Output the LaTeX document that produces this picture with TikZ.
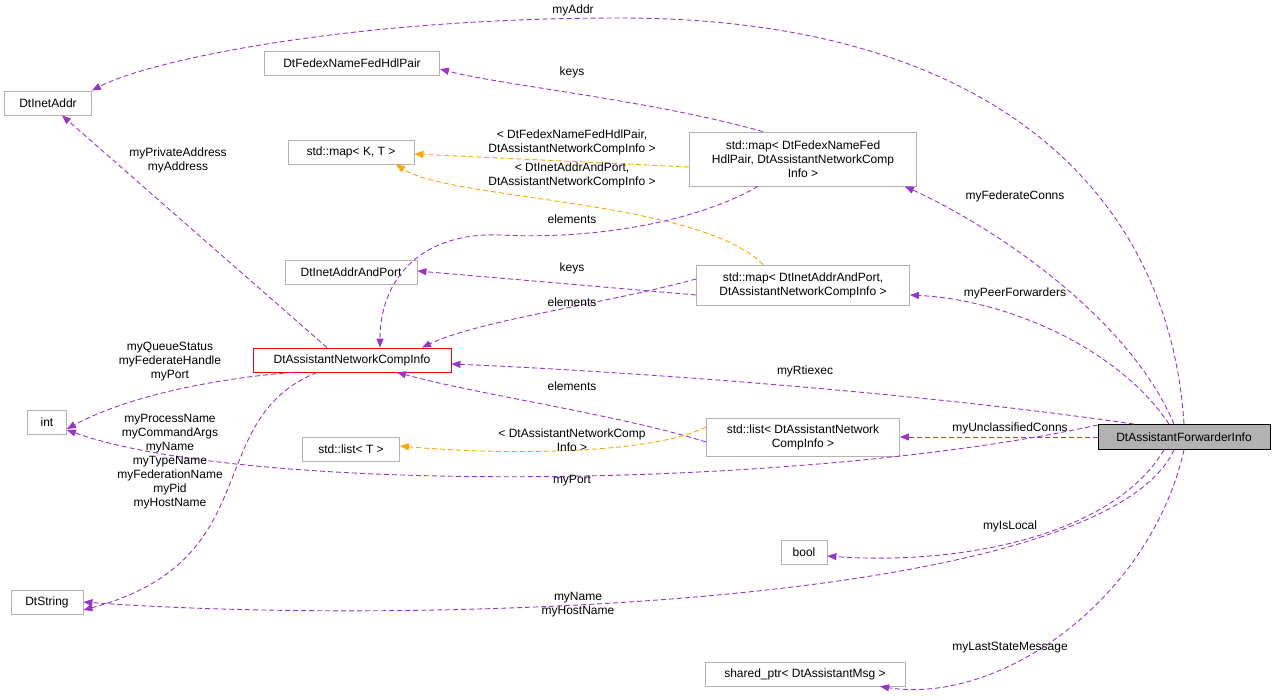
\documentclass[tikz,border=0pt]{standalone}
\usepackage{fontspec}
\setmainfont{Liberation Sans}
\usetikzlibrary{arrows.meta}
\definecolor{ep}{HTML}{9A32CD}
\definecolor{eo}{HTML}{FFA500}
\begin{document}
\begin{tikzpicture}[x=1pt,y=-1pt,
  every node/.style={font=\fontsize{12}{14}\selectfont},
  box/.style={draw=black!30,fill=white,inner sep=3pt,align=center,minimum height=24pt,line width=0.8pt},
  pe/.style={draw=ep,color=ep,line width=0.9pt,dash pattern=on 5pt off 3pt,-{Triangle[length=9pt,width=7pt]}},
  oe/.style={draw=eo,color=eo,line width=0.9pt,dash pattern=on 5pt off 3pt,-{Triangle[length=9pt,width=7pt]}},
  lab/.style={align=center,inner sep=0pt}]
\useasboundingbox (0,0) rectangle (1275,698);
\node[box,minimum width=87pt] (inet) at (48,103) {DtInetAddr};
\node[box,minimum width=175pt] (fedex) at (352,63) {DtFedexNameFedHdlPair};
\node[box,minimum width=126pt] (mapkt) at (351,152) {std::map\textless{} K, T \textgreater};
\node[box,minimum width=227pt,minimum height=54pt] (map1) at (803,159) {std::map\textless{} DtFedexNameFed\\HdlPair, DtAssistantNetworkComp\\Info \textgreater};
\node[box,minimum width=132pt] (iap) at (351,272) {DtInetAddrAndPort};
\node[box,minimum width=213pt,minimum height=40pt] (map2) at (803,285) {std::map\textless{} DtInetAddrAndPort,\\ DtAssistantNetworkCompInfo \textgreater};
\node[box,draw=red,minimum width=198pt] (nci) at (352,360) {DtAssistantNetworkCompInfo};
\node[box,minimum width=39pt] (int) at (47,422) {int};
\node[box,minimum width=97pt] (listt) at (351,449) {std::list\textless{} T \textgreater};
\node[box,minimum width=193pt,minimum height=38pt] (list) at (803,437) {std::list\textless{} DtAssistantNetwork\\CompInfo \textgreater};
\node[box,draw=black,fill=black!30,minimum width=172pt,minimum height=25pt] (fwd) at (1184,437) {DtAssistantForwarderInfo};
\node[box,minimum width=46pt] (bool) at (804,552) {bool};
\node[box,minimum width=72pt] (str) at (47,602) {DtString};
\node[box,minimum width=200pt] (sp) at (805,674) {shared\_ptr\textless{} DtAssistantMsg \textgreater};

% forwarder edges
\draw[pe] (fwd.north) .. controls (1170,200) and (1000,18) .. (620,18) .. controls (350,18) and (150,60) .. (inet.north east);
\node[lab] at (573,10) {myAddr};
\draw[pe] ([xshift=-10pt]fwd.north) .. controls (1130,320) and (1000,230) .. ([xshift=-12pt]map1.south east);
\node[lab] at (1015,196) {myFederateConns};
\draw[pe] ([xshift=-15pt]fwd.north) .. controls (1120,350) and (1010,300) .. ([yshift=-10pt]map2.east);
\node[lab] at (1015,293) {myPeerForwarders};
\draw[pe] ([xshift=-50pt]fwd.north) .. controls (900,390) and (600,370) .. ([yshift=-4pt]nci.east);
\node[lab] at (805,371) {myRtiexec};
\draw[pe] (fwd.west) -- (list.east);
\node[lab] at (1010,428) {myUnclassifiedConns};
\draw[pe] ([yshift=12pt]fwd.west) .. controls (800,490) and (250,495) .. ([yshift=-8pt]int.east);
\node[lab] at (572,481) {myPort};
\draw[pe] ([xshift=-20pt]fwd.south) .. controls (1110,540) and (950,565) .. ([yshift=-4pt]bool.east);
\node[lab] at (1010,526) {myIsLocal};
\draw[pe] ([xshift=-10pt]fwd.south) .. controls (1100,610) and (400,625) .. (str.east);
\node[lab] at (578,605) {myName\\myHostName};
\draw[pe] (fwd.south) .. controls (1150,600) and (1000,705) .. ([xshift=75pt]sp.south);
\node[lab] at (1010,648) {myLastStateMessage};

% map1
\draw[pe] ([xshift=-40pt]map1.north) .. controls (650,100) and (500,85) .. ([yshift=-6pt]fedex.east);
\node[lab] at (572,72) {keys};
\draw[oe] ([yshift=-8pt]map1.west) -- ([yshift=-2pt]mapkt.east);
\node[lab] at (572,142) {\textless{} DtFedexNameFedHdlPair,\\DtAssistantNetworkCompInfo \textgreater};
\draw[pe] ([xshift=-45pt]map1.south) .. controls (700,220) and (600,240) .. (500,235) .. controls (420,232) and (380,280) .. ([xshift=28pt]nci.north);
\node[lab] at (572,219) {elements};
% map2
\draw[oe] ([xshift=-40pt]map2.north) .. controls (700,200) and (450,200) .. ([xshift=45pt]mapkt.south);
\node[lab] at (572,175) {\textless{} DtInetAddrAndPort,\\DtAssistantNetworkCompInfo \textgreater};
\draw[pe] ([yshift=-10pt]map2.west) -- ([yshift=1pt]iap.east);
\node[lab] at (572,268) {keys};
\draw[pe] ([yshift=6pt]map2.west) .. controls (600,305) and (480,320) .. ([xshift=70pt]nci.north);
\node[lab] at (572,302) {elements};
% list
\draw[pe] ([yshift=-5pt]list.west) .. controls (620,415) and (480,395) .. ([xshift=45pt]nci.south);
\node[lab] at (572,386) {elements};
\draw[oe] ([yshift=10pt]list.west) .. controls (650,455) and (500,455) .. ([yshift=3pt]listt.east);
\node[lab] at (572,440) {\textless{} DtAssistantNetworkComp\\Info \textgreater};
% nci
\draw[pe] ([xshift=-25pt]nci.north) -- ([xshift=14pt]inet.south);
\node[lab] at (178,160) {myPrivateAddress\\myAddress};
\draw[pe] ([xshift=-60pt]nci.south) .. controls (200,380) and (120,400) .. ([yshift=-7pt]int.east);
\node[lab] at (170,362) {myQueueStatus\\myFederateHandle\\myPort};
\draw[pe] ([xshift=-35pt]nci.south) .. controls (200,420) and (270,560) .. ([yshift=-8pt]str.east);
\node[lab] at (170,462) {myProcessName\\myCommandArgs\\myName\\myTypeName\\myFederationName\\myPid\\myHostName};
\end{tikzpicture}
\end{document}
